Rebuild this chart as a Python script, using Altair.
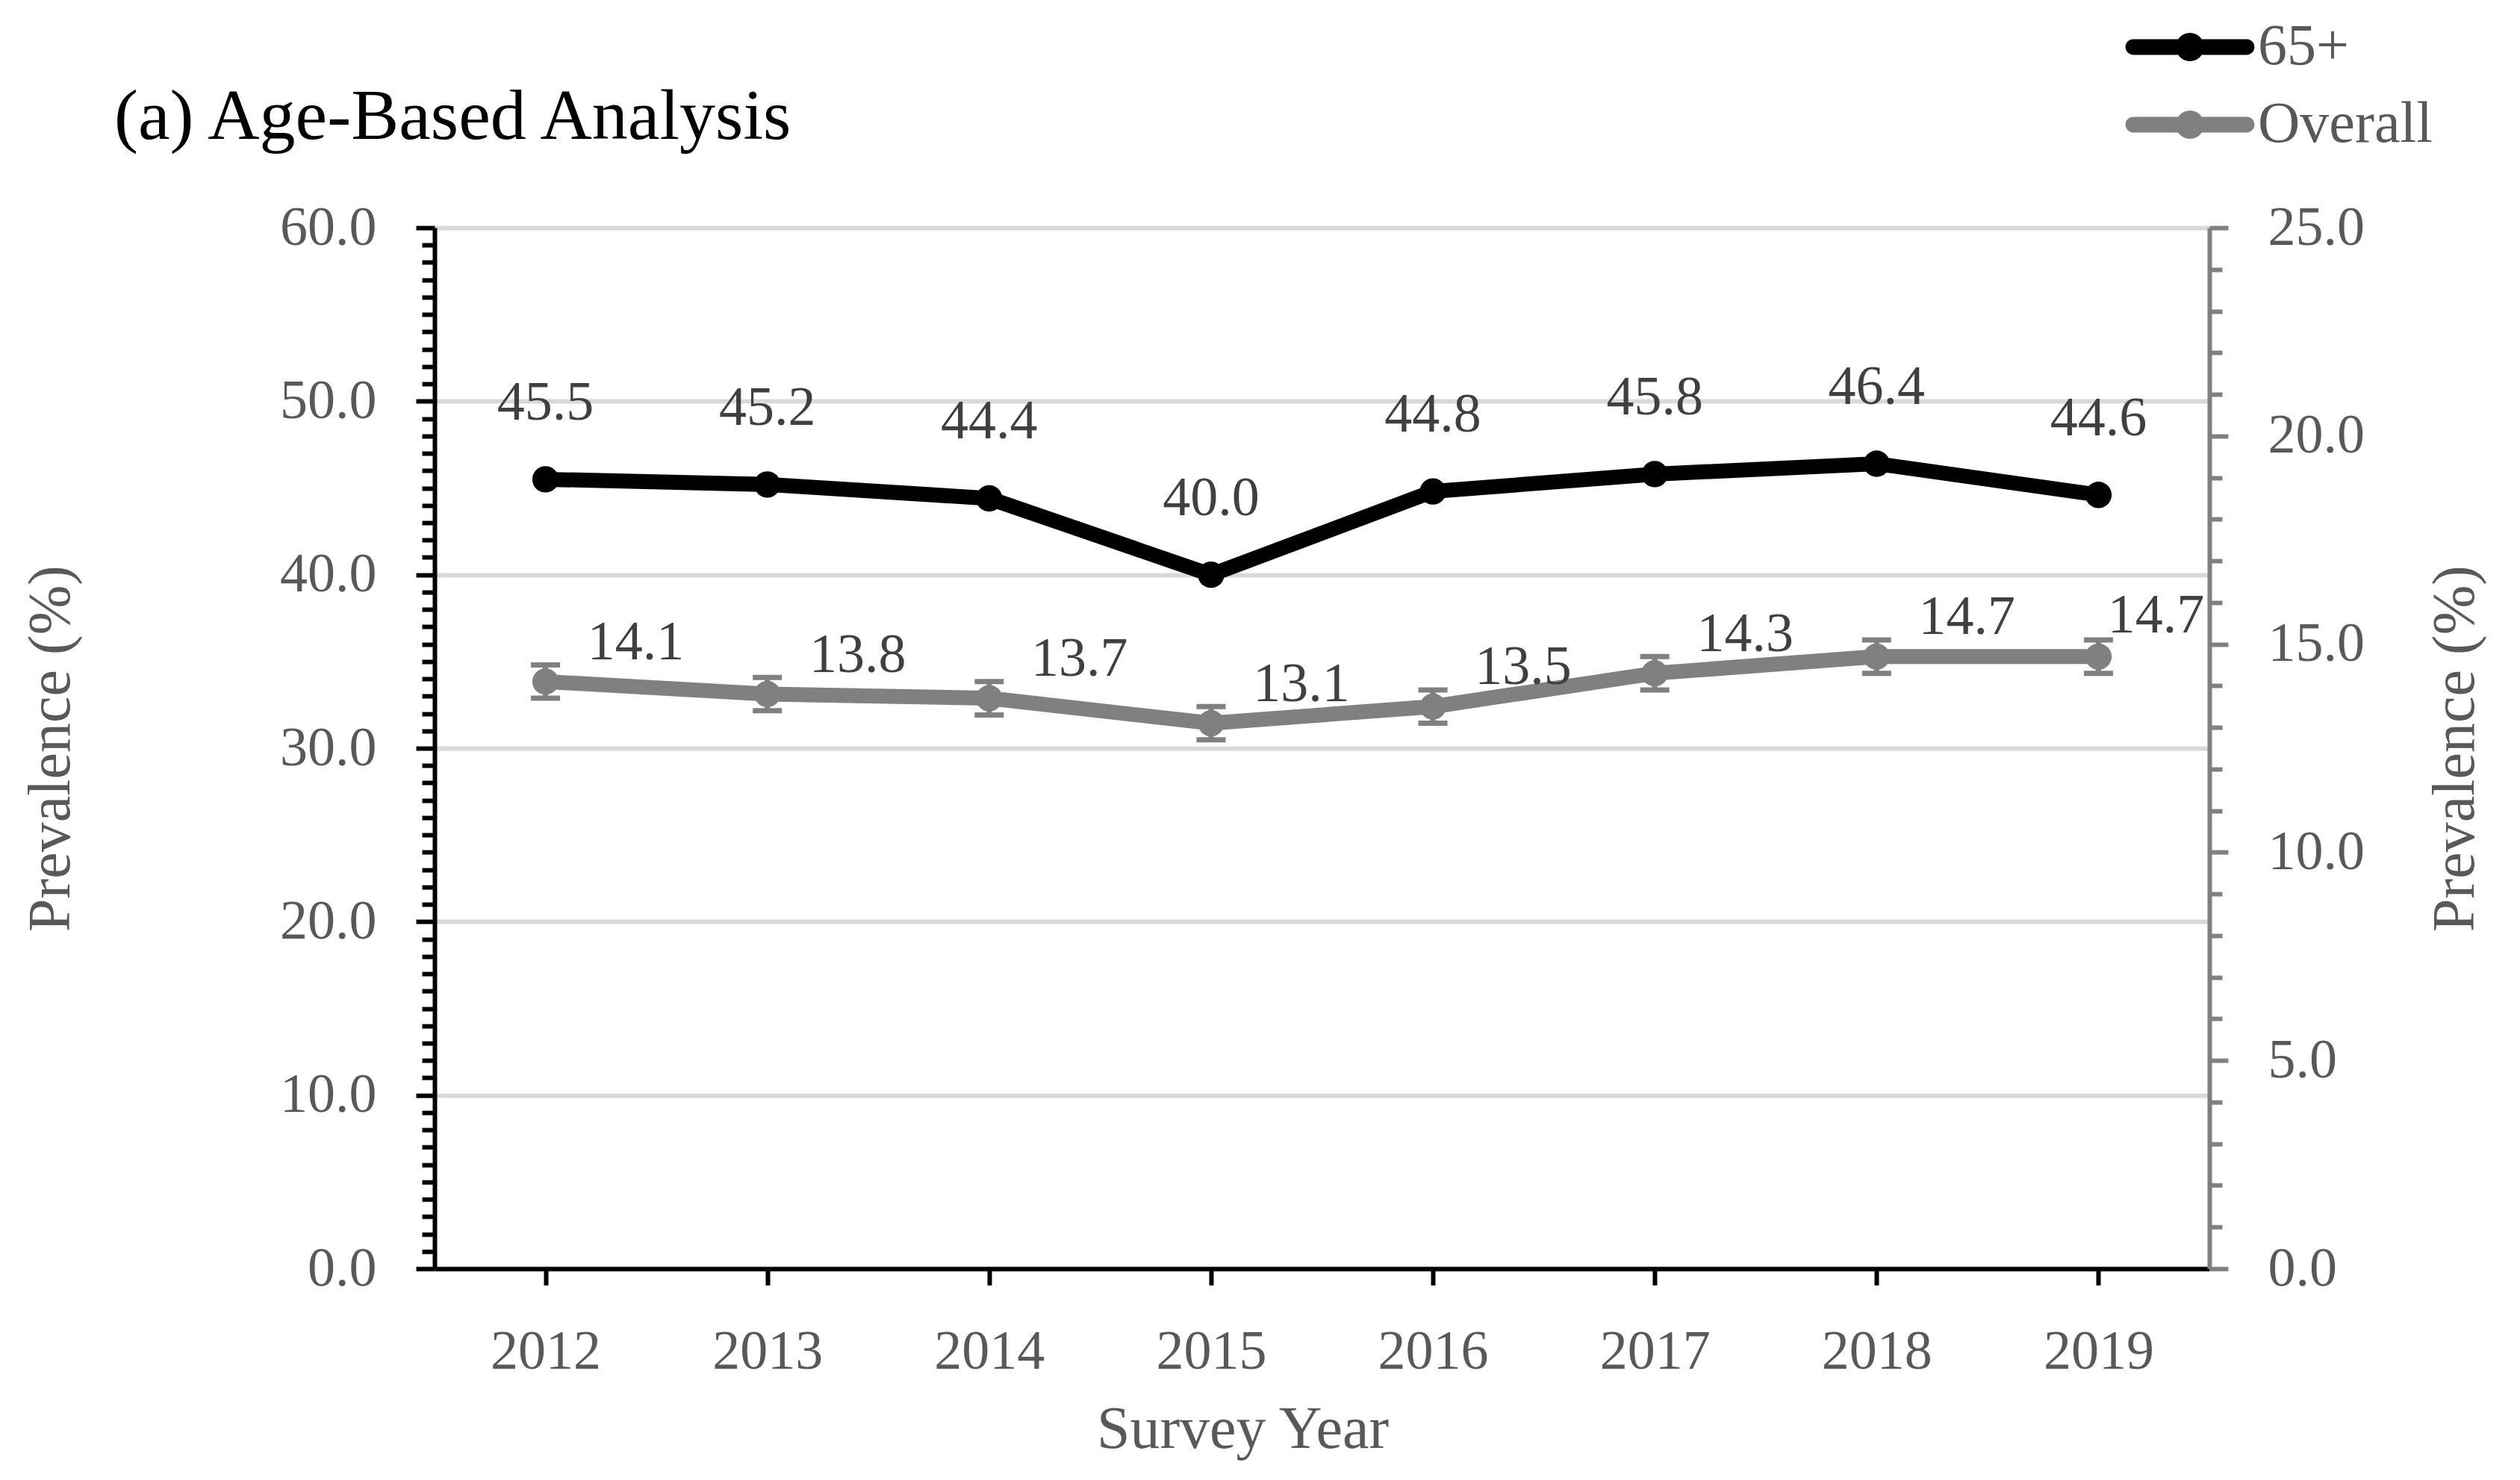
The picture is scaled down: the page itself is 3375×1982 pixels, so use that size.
import altair as alt
import pandas as pd

# ---------------- data ----------------
years = ["2012", "2013", "2014", "2015", "2016", "2017", "2018", "2019"]
older = [45.5, 45.2, 44.4, 40.0, 44.8, 45.8, 46.4, 44.6]          # 65+ (left axis)
overall = [14.1, 13.8, 13.7, 13.1, 13.5, 14.3, 14.7, 14.7]        # Overall (right axis)
overall_lo = [13.7, 13.4, 13.3, 12.7, 13.1, 13.9, 14.3, 14.3]
overall_hi = [14.5, 14.2, 14.1, 13.5, 13.9, 14.7, 15.1, 15.1]
series_names = ["65+", "Overall"]
series_colors = ["#000000", "#808080"]
left_ticks = [0, 10, 20, 30, 40, 50, 60]
right_ticks = [0, 5, 10, 15, 20, 25]

df_old = pd.DataFrame({"year": years, "value": older, "series": series_names[0]})
df_all = pd.DataFrame({"year": years, "value": overall, "lo": overall_lo,
                       "hi": overall_hi, "series": series_names[1]})

FONT = "Liberation Serif"
LABEL_GRAY = "#595959"
DATA_GRAY = "#404040"
W, H = 2377, 1394

x_enc = alt.X(
    "year:O", sort=years,
    scale=alt.Scale(type="point", padding=0.5),
    axis=alt.Axis(
        title="Survey Year", titleFont=FONT, titleFontSize=80, titleFontWeight="normal",
        titleColor=LABEL_GRAY, titleX=1082, titleY=239, titleAlign="center",
        titleBaseline="alphabetic", titleAnchor="start",
        labelFont=FONT, labelFontSize=74, labelColor=LABEL_GRAY, labelAngle=0,
        labelBaseline="alphabetic", labelPadding=111,
        domainColor="#000000", domainWidth=6, tickColor="#000000", tickWidth=6,
        tickSize=22, grid=False,
    ),
)

left_scale = alt.Scale(domain=[0, 60], nice=False, zero=True)
right_scale = alt.Scale(domain=[0, 25], nice=False, zero=True)

left_major_axis = alt.Axis(
    orient="left", values=left_ticks, format=".1f",
    title="Prevalence (%)", titleFont=FONT, titleFontSize=80, titleFontWeight="normal",
    titleColor=LABEL_GRAY, titleX=-490, titleY=H / 2, titleAngle=270,
    titleAlign="center", titleBaseline="alphabetic",
    labelFont=FONT, labelFontSize=74, labelColor=LABEL_GRAY, labelPadding=53,
    domainColor="#000000", domainWidth=6, tickColor="#000000", tickWidth=6, tickSize=25,
    grid=True, gridColor="#d9d9d9", gridWidth=6,
)
left_minor_axis = alt.Axis(
    orient="left", values=[v for v in range(1, 60) if v % 10], labels=False,
    title=None, domain=False, grid=False, tickColor="#000000", tickWidth=6, tickSize=17,
)
right_major_axis = alt.Axis(
    orient="right", values=right_ticks, format=".1f",
    title="Prevalence (%)", titleFont=FONT, titleFontSize=80, titleFontWeight="normal",
    titleColor=LABEL_GRAY, titleX=353, titleY=H / 2, titleAngle=270,
    titleAlign="center", titleBaseline="alphabetic",
    labelFont=FONT, labelFontSize=74, labelColor=LABEL_GRAY, labelPadding=53,
    domainColor="#808080", domainWidth=6, tickColor="#808080", tickWidth=6, tickSize=25,
    grid=False,
)
right_minor_axis = alt.Axis(
    orient="right", values=[v for v in range(1, 25) if v % 5], labels=False,
    title=None, domain=False, grid=False, tickColor="#808080", tickWidth=6, tickSize=17,
)

legend_path = (
    "M-3.8,-0.52 L3.8,-0.52 A0.52,0.52 0 0,1 3.8,0.52 L-3.8,0.52 "
    "A0.52,0.52 0 0,1 -3.8,-0.52 Z "
    "M0.95,0 A0.95,0.95 0 1,1 -0.95,0 A0.95,0.95 0 1,1 0.95,0 Z"
)
legend = alt.Legend(
    orient="none", legendX=2312, legendY=-281, title=None, direction="vertical",
    symbolType=legend_path, symbolSize=1600, symbolStrokeWidth=0, symbolOpacity=1,
    labelFont=FONT, labelFontSize=78, labelColor=LABEL_GRAY, labelOffset=52,
    labelLimit=1000, rowPadding=26, padding=0, offset=0,
)
color_enc = alt.Color("series:N", scale=alt.Scale(domain=series_names, range=series_colors),
                      legend=legend)

base_old = alt.Chart(df_old)
base_all = alt.Chart(df_all)

# ---- 65+ (left axis) ----
old_line = base_old.mark_line(color="#000000", strokeWidth=20).encode(
    x=x_enc, y=alt.Y("value:Q", scale=left_scale, axis=left_major_axis))
old_pts = base_old.mark_point(filled=True, size=1250, opacity=1, shape="circle").encode(
    x=x_enc, y=alt.Y("value:Q", scale=left_scale, axis=left_minor_axis), color=color_enc)
old_txt = base_old.mark_text(font=FONT, fontSize=74, color=DATA_GRAY, align="center",
                             baseline="alphabetic", dy=-80).encode(
    x=x_enc, y=alt.Y("value:Q", scale=left_scale, axis=None),
    text=alt.Text("value:Q", format=".1f"))

# ---- Overall (right axis) ----
all_line = base_all.mark_line(color="#808080", strokeWidth=20).encode(
    x=x_enc, y=alt.Y("value:Q", scale=right_scale, axis=right_major_axis))
all_rule = base_all.mark_rule(color="#808080", strokeWidth=7).encode(
    x=x_enc, y=alt.Y("lo:Q", scale=right_scale, axis=None), y2="hi:Q")
all_cap_lo = base_all.mark_tick(color="#808080", size=39, thickness=7, opacity=1).encode(
    x=x_enc, y=alt.Y("lo:Q", scale=right_scale, axis=right_minor_axis))
all_cap_hi = base_all.mark_tick(color="#808080", size=39, thickness=7, opacity=1).encode(
    x=x_enc, y=alt.Y("hi:Q", scale=right_scale, axis=None))
all_pts = base_all.mark_point(filled=True, size=1250, opacity=1, shape="circle").encode(
    x=x_enc, y=alt.Y("value:Q", scale=right_scale, axis=None), color=color_enc)
all_txt = base_all.mark_text(font=FONT, fontSize=74, color=DATA_GRAY, align="center",
                             baseline="alphabetic", dx=121, dy=-30).encode(
    x=x_enc, y=alt.Y("value:Q", scale=right_scale, axis=None),
    text=alt.Text("value:Q", format=".1f")).transform_filter(alt.datum.year != "2019")
all_txt_last = base_all.mark_text(font=FONT, fontSize=74, color=DATA_GRAY, align="center",
                                  baseline="alphabetic", dx=77, dy=-32).encode(
    x=x_enc, y=alt.Y("value:Q", scale=right_scale, axis=None),
    text=alt.Text("value:Q", format=".1f")).transform_filter(alt.datum.year == "2019")

chart = alt.layer(
    old_line, old_pts, old_txt,
    all_line, all_rule, all_cap_lo, all_cap_hi, all_pts, all_txt, all_txt_last,
).resolve_scale(y="independent").properties(
    width=W, height=H,
    title=alt.TitleParams("(a) Age-Based Analysis", anchor="start", frame="group",
                          font=FONT, fontSize=96, fontWeight="normal", color="#000000",
                          dx=-429, dy=258, offset=0, baseline="alphabetic"),
    autosize=alt.AutoSizeParams(type="none"),
    padding={"left": 574, "top": 297, "right": 408, "bottom": 270},
).configure_view(strokeWidth=0).configure(font=FONT, background="white")

chart.save("out.html", embed_options={"renderer": "svg", "actions": False})
